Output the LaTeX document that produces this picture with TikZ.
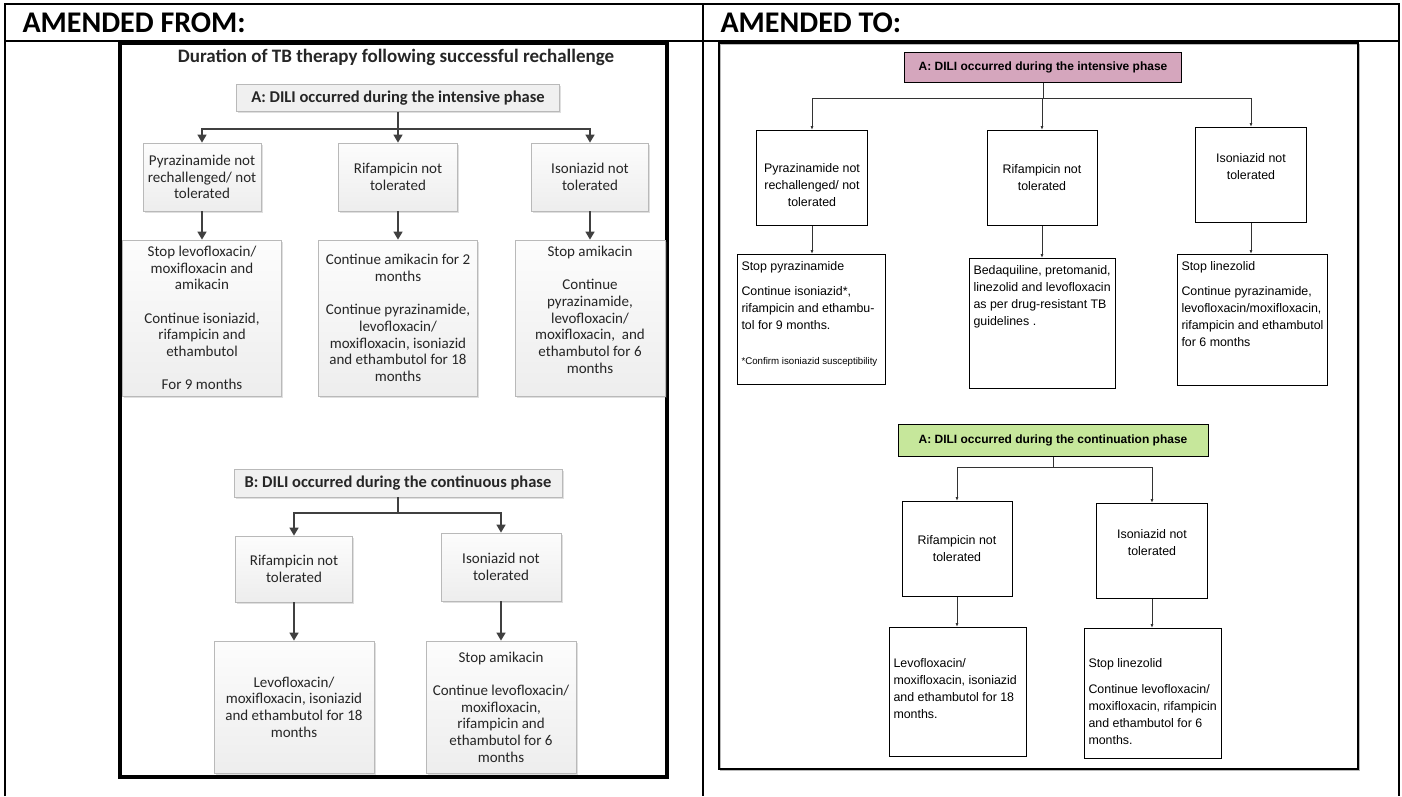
\documentclass[tikz,border=0pt]{standalone}
\usepackage{fontspec}
\setmainfont{Carlito}
\newfontfamily\arialfont{Liberation Sans}
\usepackage{tikz}
\usetikzlibrary{arrows.meta}
\usetikzlibrary{shadows}
\definecolor{pinkhead}{RGB}{213,166,189}
\definecolor{greenhead}{RGB}{198,231,155}
\definecolor{oldtext}{RGB}{38,38,38}

\begin{document}
\begin{tikzpicture}[x=1pt, y=-1pt,
    oldbox/.style={draw=gray!55, line width=0.8pt, top color=gray!2, bottom color=gray!14, drop shadow={shadow xshift=1.5pt, shadow yshift=-1.5pt, opacity=0.25}, text=oldtext, font=\fontsize{15}{16.7}\selectfont, align=center, inner sep=0pt},
    oldhead/.style={oldbox, top color=gray!12, bottom color=gray!12, font=\bfseries\fontsize{16.5}{18}\selectfont},
    oldline/.style={draw=black!75, line width=1.6pt},
    oldarrow/.style={oldline, -{Triangle[length=8pt,width=9pt]}},
    newbox/.style={draw, line width=1pt, font=\arialfont\fontsize{12.4}{17}\selectfont, align=center, inner sep=0pt},
    newtext/.style={newbox, anchor=north west, inner sep=4pt, align=left},
    newline/.style={draw=black!80, line width=0.8pt},
    newarrow/.style={newline, -{Latex[length=4pt,width=3pt]}}]
    \useasboundingbox (0,0) rectangle (1402,796);

    % table round the two versions
    \draw [line width=2pt](5,796) -- (5,4) -- (1399,4) -- (1399,796);
    \draw [line width=2pt](5,41) -- (1399,41);
    \draw [line width=2pt](703,4) -- (703,796);
    \node [anchor=base west, font=\bfseries\fontsize{30}{32}\selectfont] (headfrom) at (19,32) {AMENDED FROM:};
    \node [anchor=base west, font=\bfseries\fontsize{30}{32}\selectfont] (headto) at (717,32) {AMENDED TO:};

    % amended from
    \draw [line width=4pt](120,43) rectangle (667,777);
    \node [text=oldtext, font=\bfseries\fontsize{19}{21}\selectfont] (title) at (396,57) {Duration of TB therapy following successful rechallenge};

    \node [oldhead, minimum width=323pt, minimum height=27pt] (hA) at (398,98) {A: DILI occurred during the intensive phase};
    \coordinate (jA) at (398,129);
    \node [oldbox, minimum width=118pt, minimum height=68pt] (p1) at (202,177) {Pyrazinamide not\\rechallenged/ not\\tolerated};
    \node [oldbox, minimum width=119pt, minimum height=68pt] (r1) at (398,177) {Rifampicin not\\tolerated};
    \node [oldbox, minimum width=117pt, minimum height=68pt] (i1) at (590,177) {Isoniazid not\\tolerated};
    \node [oldbox, minimum width=159pt, minimum height=156pt] (p2) at (202,318) {Stop levofloxacin/\\moxifloxacin and\\amikacin\\[16.7pt]Continue isoniazid,\\rifampicin and\\ethambutol\\[16.7pt]For 9 months};
    \node [oldbox, minimum width=159pt, minimum height=156pt] (r2) at (398,318) {Continue amikacin for 2\\months\\[16.7pt]Continue pyrazinamide,\\levofloxacin/\\moxifloxacin, isoniazid\\and ethambutol for 18\\months};
    \node [oldbox, minimum width=150pt, minimum height=156pt] (i2) at (590,318) {Stop amikacin\\[16.7pt]Continue\\pyrazinamide,\\levofloxacin/\\moxifloxacin,\ \ and\\ethambutol for 6\\months\\\mbox{}};
    \draw [oldline](hA) -- (jA);
    \draw [oldarrow](jA) -| (p1);
    \draw [oldarrow](jA) -- (r1);
    \draw [oldarrow](jA) -| (i1);
    \draw [oldarrow](p1) -- (p2);
    \draw [oldarrow](r1) -- (r2);
    \draw [oldarrow](i1) -- (i2);

    \node [oldhead, minimum width=328pt, minimum height=28pt] (hB) at (398,483) {B: DILI occurred during the continuous phase};
    \coordinate (jB) at (398,513);
    \node [oldbox, minimum width=117pt, minimum height=66pt] (b1) at (294,569) {Rifampicin not\\tolerated};
    \node [oldbox, minimum width=120pt, minimum height=68pt] (b2) at (501,567) {Isoniazid not\\tolerated};
    \node [oldbox, minimum width=160pt, minimum height=132pt] (b3) at (294,707) {Levofloxacin/\\moxifloxacin, isoniazid\\and ethambutol for 18\\months};
    \node [oldbox, minimum width=150pt, minimum height=132pt] (b4) at (501,707) {Stop amikacin\\[16.7pt]Continue levofloxacin/\\moxifloxacin,\\rifampicin and\\ethambutol for 6\\months};
    \draw [oldline](hB) -- (jB);
    \draw [oldarrow](jB) -| (b1);
    \draw [oldarrow](jB) -| (b2);
    \draw [oldarrow](b1) -- (b3);
    \draw [oldarrow](b2) -- (b4);

    % amended to
    \draw [gray!55, line width=1pt](720.5,44.5) rectangle (1359.5,770.5);
    \draw [line width=1.2pt](719,43) rectangle (1358,769);

    \node [newbox, fill=pinkhead, font=\arialfont\bfseries\fontsize{12}{14}\selectfont, minimum width=277pt, minimum height=30pt] (nA) at (1043,67) {A: DILI occurred during the intensive phase};
    \coordinate (kA) at (1043,98);
    \node [newbox, minimum width=111pt, minimum height=95pt] (n1) at (812,178) {\mbox{}\\[6pt]Pyrazinamide not\\rechallenged/ not\\tolerated};
    \node [newbox, minimum width=110pt, minimum height=95pt] (n2) at (1042,178) {Rifampicin not\\tolerated};
    \node [newbox, minimum width=111pt, minimum height=95pt] (n3) at (1251,175) {Isoniazid not\\tolerated\\\mbox{}};
    \node [newtext] (n4) at (737,254) {\parbox[t][122pt][t]{140pt}{\vspace*{3pt}Stop pyrazinamide\\[8pt]Continue isoniazid*,\\rifampicin and ethambu-\\tol for 9 months.\\[18pt]{\fontsize{9.7}{10}\selectfont *Confirm isoniazid susceptibility}}};
    \node [newtext] (n5) at (969,258) {\parbox[t][122pt][t]{138pt}{\vspace*{3pt}Bedaquiline, pretomanid,\\linezolid and levofloxacin\\as per drug-resistant TB\\guidelines .}};
    \node [newtext] (n6) at (1177,254) {\parbox[t][123pt][t]{142pt}{\vspace*{3pt}Stop linezolid\\[8pt]Continue pyrazinamide,\\levofloxacin/moxifloxacin,\\rifampicin and ethambutol\\for 6 months}};
    \draw [newline](nA) -- (kA);
    \draw [newarrow](kA) -| (n1);
    \draw [newarrow](kA) -| (n2);
    \draw [newarrow](kA) -| (n3);
    \draw [newarrow](n1.south) -- (n1.south |- n4.north);
    \draw [newarrow](n2.south) -- (n2.south |- n5.north);
    \draw [newarrow](n3.south) -- (n3.south |- n6.north);

    \node [newbox, fill=greenhead, font=\arialfont\bfseries\fontsize{12}{14}\selectfont, minimum width=310pt, minimum height=32pt] (nC) at (1053,440) {A: DILI occurred during the continuation phase};
    \coordinate (kC) at (1053,467);
    \node [newbox, minimum width=110pt, minimum height=95pt] (c1) at (957,549) {Rifampicin not\\tolerated};
    \node [newbox, minimum width=111pt, minimum height=95pt] (c2) at (1152,551) {Isoniazid not\\tolerated\\\mbox{}};
    \node [newtext] (c3) at (889,627) {\parbox[t][121pt][t]{129pt}{\vspace*{27pt}Levofloxacin/\\moxifloxacin, isoniazid\\and ethambutol for 18\\months.}};
    \node [newtext] (c4) at (1084,628) {\parbox[t][122pt][t]{129pt}{\vspace*{26pt}Stop linezolid\\[9pt]Continue levofloxacin/\\moxifloxacin, rifampicin\\and ethambutol for 6\\months.}};
    \draw [newline](nC) -- (kC);
    \draw [newarrow](kC) -| (c1);
    \draw [newarrow](kC) -| (c2);
    \draw [newarrow](c1.south) -- (c1.south |- c3.north);
    \draw [newarrow](c2.south) -- (c2.south |- c4.north);
\end{tikzpicture}
\end{document}
